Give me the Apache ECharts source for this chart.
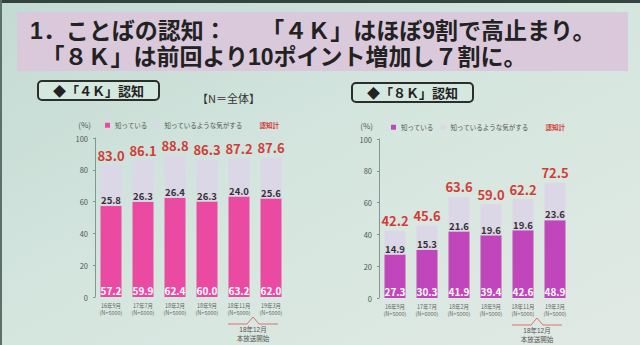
<!DOCTYPE html>
<html><head><meta charset="utf-8">
<script src="https://cdn.jsdelivr.net/npm/echarts@6/dist/echarts.min.js"></script>
<style>html,body{margin:0;padding:0;background:#d5e6df}#c{width:640px;height:345px}</style>
</head><body><div id="c"></div>
<script>
// ---- data ----
const categories = ['16年9月', '17年7月', '18年2月', '18年9月', '18年11月', '19年3月'];
const sampleN = ['N=5000', 'N=6000', 'N=5000', 'N=5000', 'N=5000', 'N=5000'];
const k4Know = [57.2, 59.9, 62.4, 60.0, 63.2, 62.0];
const k4Seem = [25.8, 26.3, 26.4, 26.3, 24.0, 25.6];
const k4Total = [83.0, 86.1, 88.8, 86.3, 87.2, 87.6];
const k8Know = [27.3, 30.3, 41.9, 39.4, 42.6, 48.9];
const k8Seem = [14.9, 15.3, 21.6, 19.6, 19.6, 23.6];
const k8Total = [42.2, 45.6, 63.6, 59.0, 62.2, 72.5];
const yTicks = [0, 20, 40, 60, 80, 100];
const seriesNames = ['知っている', '知っているような気がする', '認知計'];
const titleText = '1．ことばの認知：　　「４Ｋ」はほぼ9割で高止まり。\n　「８Ｋ」は前回より10ポイント増加し７割に。';
const panelTitles = ['◆「４Ｋ」認知', '◆「８Ｋ」認知'];
const noteText = '18年12月\n本放送開始';
const noteIndex = [4, 5];

// ---- style ----
const FONT = '"Noto Sans CJK JP", "Noto Sans", sans-serif';
const TFONT = '"Liberation Sans", "Noto Sans CJK JP", sans-serif';
const PINK = '#ea4aa2';
const PURPLE = '#c246bb';
const LIGHT = '#dcd7e6';
const RED = '#d23c38';

const chart = echarts.init(document.getElementById('c'), null, { renderer: 'svg' });

function xAxisOpt(grid) {
  return {
    type: 'category', gridIndex: grid, data: categories,
    axisLine: { show: false }, axisTick: { show: false },
    axisLabel: {
      interval: 0, fontSize: 5.5, color: '#666', fontFamily: FONT, margin: 5, lineHeight: 7.5,
      formatter: (v, i) => v + '\n(' + sampleN[i] + ')'
    }
  };
}
function yAxisOpt(grid, pad) {
  return {
    type: 'value', gridIndex: grid, min: yTicks[0], max: yTicks[yTicks.length - 1], interval: 20,
    name: '(%)', nameLocation: 'end', nameGap: 10,
    nameTextStyle: { fontSize: 8, color: '#555', fontFamily: FONT, align: 'right', padding: [0, pad, 0, 0] },
    axisLine: { show: true, lineStyle: { color: '#7f9896', width: 1 } },
    axisTick: { show: true, length: 2, lineStyle: { color: '#7f9896' } },
    splitLine: { show: false },
    axisLabel: { fontSize: 7.5, color: '#555', fontFamily: FONT, margin: 7 }
  };
}
function seriesFor(grid, know, seem, total, color) {
  return [
    {
      name: seriesNames[0], type: 'bar', xAxisIndex: grid, yAxisIndex: grid, stack: 's' + grid,
      data: know, barWidth: 21, itemStyle: { color: color },
      label: { show: true, position: 'insideBottom', distance: 2, color: '#fff', fontWeight: 'bold', fontSize: 10, fontFamily: FONT, formatter: p => p.value.toFixed(1) }
    },
    {
      name: seriesNames[1], type: 'bar', xAxisIndex: grid, yAxisIndex: grid, stack: 's' + grid,
      data: seem, barWidth: 21, itemStyle: { color: LIGHT },
      label: { show: true, position: 'insideBottom', distance: 1, color: '#333', fontWeight: 'bold', fontSize: 9.5, fontFamily: FONT, formatter: p => p.value.toFixed(1) }
    },
    {
      name: seriesNames[2], type: 'line', xAxisIndex: grid, yAxisIndex: grid, data: total,
      symbol: 'circle', symbolSize: 1, itemStyle: { color: 'rgba(0,0,0,0)' }, lineStyle: { color: 'rgba(0,0,0,0)', width: 0 },
      label: { show: true, position: 'top', distance: 3, color: RED, fontWeight: 'bold', fontSize: 13, fontFamily: FONT, formatter: p => p.value.toFixed(1) },
      z: 5, silent: true
    }
  ];
}
function legendOpt(left, top, color) {
  return {
    left: left, top: top, itemWidth: 5, itemHeight: 5, itemGap: 7, selectedMode: false,
    textStyle: { fontSize: 6.5, color: '#555', fontFamily: FONT },
    data: [
      { name: seriesNames[0], icon: 'rect', itemStyle: { color: color } },
      { name: seriesNames[1], icon: 'rect', itemStyle: { color: LIGHT } },
      { name: seriesNames[2], icon: 'rect', itemStyle: { color: 'rgba(0,0,0,0)' }, textStyle: { color: RED, fontWeight: 'bold', fontSize: 6.5 } }
    ]
  };
}

const baseGraphic = [
  { type: 'rect', shape: { x: 0, y: 0, width: 640, height: 3 }, style: { fill: '#34433f' }, silent: true },
  { type: 'rect', shape: { x: 0, y: 0, width: 2, height: 345 }, style: { fill: '#5c706b' }, silent: true },
  { type: 'rect', shape: { x: 17, y: 12, width: 611, height: 59 }, style: { fill: '#d9c9db' }, silent: true },
  { type: 'text', x: 30, y: 43.5, style: { text: titleText, font: 'bold 23px ' + TFONT, lineHeight: 26, fill: '#222', textVerticalAlign: 'middle' } },
  { type: 'rect', shape: { x: 38, y: 81, width: 121, height: 19, r: 4 }, style: { fill: '#d4e8df', stroke: '#2a2f2d', lineWidth: 2 } },
  { type: 'text', x: 98.5, y: 90.5, style: { text: panelTitles[0], font: 'bold 13px ' + FONT, fill: '#222', textAlign: 'center', textVerticalAlign: 'middle' } },
  { type: 'rect', shape: { x: 352, y: 83, width: 121, height: 19, r: 4 }, style: { fill: '#d4e8df', stroke: '#2a2f2d', lineWidth: 2 } },
  { type: 'text', x: 412.5, y: 92.5, style: { text: panelTitles[1], font: 'bold 13px ' + FONT, fill: '#222', textAlign: 'center', textVerticalAlign: 'middle' } },
  { type: 'text', x: 197, y: 98, style: { text: '【N＝全体】', font: '11px ' + FONT, fill: '#333', textVerticalAlign: 'middle' } }
];

chart.setOption({
  backgroundColor: {
    type: 'linear', x: 0, y: 0, x2: 1, y2: 1,
    colorStops: [{ offset: 0, color: '#c3dad2' }, { offset: 0.5, color: '#d5e6df' }, { offset: 1, color: '#e1e9e4' }]
  },
  textStyle: { fontFamily: FONT },
  animation: false,
  grid: [
    { left: 95, top: 138, width: 192, bottom: 48 },
    { left: 379, top: 139, width: 192, bottom: 47 }
  ],
  xAxis: [xAxisOpt(0), xAxisOpt(1)],
  yAxis: [yAxisOpt(0, 4), yAxisOpt(1, 6)],
  legend: [legendOpt(100, 117, PINK), legendOpt(386, 119, PURPLE)],
  series: [].concat(
    seriesFor(0, k4Know, k4Seem, k4Total, PINK),
    seriesFor(1, k8Know, k8Seem, k8Total, PURPLE)
  ),
  graphic: baseGraphic
});

// annotation under the last two categories, positioned through the axes
function annotation(grid) {
  const a = chart.convertToPixel({ xAxisIndex: grid, yAxisIndex: grid }, [categories[noteIndex[0]], 0]);
  const b = chart.convertToPixel({ xAxisIndex: grid, yAxisIndex: grid }, [categories[noteIndex[1]], 0]);
  const mid = (a[0] + b[0]) / 2 - 2;
  const y = a[1] + 27;
  return [
    { type: 'polyline', shape: { points: [[mid - 25, y], [mid - 6, y], [mid, y - 7], [mid + 6, y], [mid + 25, y]] }, style: { stroke: '#e0706a', lineWidth: 1, fill: null }, silent: true },
    { type: 'text', x: mid, y: y + 10, style: { text: noteText, font: '6.5px ' + TFONT, lineHeight: 8.5, fill: '#555', textAlign: 'center', textVerticalAlign: 'middle' } }
  ];
}
chart.setOption({ graphic: baseGraphic.concat(annotation(0), annotation(1)) });
</script>
</body></html>
